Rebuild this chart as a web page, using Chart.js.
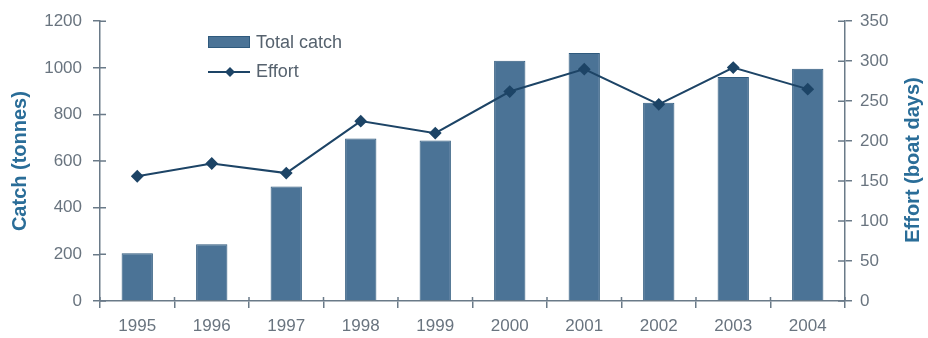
<!DOCTYPE html>
<html>
<head>
<meta charset="utf-8">
<script src="https://cdn.jsdelivr.net/npm/chart.js@4"></script>
<style>
  html, body { margin: 0; padding: 0; background: #fff; }
  #wrap { width: 928px; height: 338px; position: relative; }
</style>
</head>
<body>
<div id="wrap"><canvas id="chart" width="928" height="338"></canvas></div>
<script>
const years = ["1995", "1996", "1997", "1998", "1999", "2000", "2001", "2002", "2003", "2004"];
const totalCatch = [205, 243, 491, 697, 688, 1030, 1064, 850, 961, 996];
const effort = [156, 172, 160, 225, 210, 262, 290, 246, 292, 265];
const catchTicks = [0, 200, 400, 600, 800, 1000, 1200];
const effortTicks = [0, 50, 100, 150, 200, 250, 300, 350];

const barColor = "#4b7396";
const lineColor = "#1d4466";
const axisColor = "#6a7a88";
const labelColor = "#69747f";
const titleColor = "#2a6d98";
const font = "'Liberation Sans', Arial, sans-serif";

// legend inside the plot, short inner ticks and the upward right title
const extras = {
    id: "extras",
    afterDraw(chart) {
        const c = chart.ctx;
        const area = chart.chartArea;
        const y = chart.scales.y, y2 = chart.scales.y2, x = chart.scales.x;
        c.save();

        // inner halves of the crossing tick marks
        c.strokeStyle = axisColor;
        c.lineWidth = 1.5;
        c.beginPath();
        catchTicks.forEach(v => {
            const py = y.getPixelForValue(v);
            c.moveTo(area.left, py); c.lineTo(area.left + 6, py);
        });
        effortTicks.forEach(v => {
            const py = y2.getPixelForValue(v);
            c.moveTo(area.right, py); c.lineTo(area.right - 7, py);
        });
        for (let i = 0; i <= years.length; i++) {
            const px = x.getPixelForValue(i - 0.5);
            c.moveTo(px, area.bottom); c.lineTo(px, area.bottom - 4);
        }
        c.stroke();

        // legend
        c.fillStyle = barColor;
        c.strokeStyle = "#2f5a7d";
        c.lineWidth = 1;
        c.fillRect(208, 36, 42, 12);
        c.strokeRect(208.5, 36.5, 41, 11);
        c.strokeStyle = lineColor;
        c.lineWidth = 2;
        c.beginPath();
        c.moveTo(208, 72);
        c.lineTo(250, 72);
        c.stroke();
        c.fillStyle = lineColor;
        c.beginPath();
        c.moveTo(230, 67); c.lineTo(235, 72); c.lineTo(230, 77); c.lineTo(225, 72);
        c.closePath();
        c.fill();
        c.fillStyle = "#56626e";
        c.font = "18px " + font;
        c.textBaseline = "middle";
        c.fillText("Total catch", 256, 43);
        c.fillText("Effort", 256, 72);

        // right axis title, reading upward
        c.translate(913, 160);
        c.rotate(-Math.PI / 2);
        c.fillStyle = titleColor;
        c.font = "bold 20px " + font;
        c.textAlign = "center";
        c.textBaseline = "middle";
        c.fillText("Effort (boat days)", 0, 0);
        c.restore();
    }
};

const tickFont = { family: font, size: 17 };

const ctx = document.getElementById("chart").getContext("2d");

new Chart(ctx, {
    data: {
        labels: years,
        datasets: [
            {
                type: "line",
                label: "Effort",
                data: effort,
                yAxisID: "y2",
                borderColor: lineColor,
                backgroundColor: lineColor,
                borderWidth: 2,
                pointStyle: "rectRot",
                pointRadius: 5,
                tension: 0,
                order: 0
            },
            {
                type: "bar",
                label: "Total catch",
                data: totalCatch,
                yAxisID: "y",
                backgroundColor: barColor,
                borderColor: "#2f5a7d",
                borderWidth: 1,
                barPercentage: 0.42,
                categoryPercentage: 1,
                order: 1
            }
        ]
    },
    options: {
        responsive: false,
        animation: false,
        layout: { padding: { top: 18, left: 0, right: 0, bottom: 0 } },
        plugins: {
            legend: { display: false },
            tooltip: { enabled: false }
        },
        scales: {
            x: {
                offset: true,
                grid: {
                    offset: true,
                    drawOnChartArea: false,
                    color: axisColor,
                    tickLength: 7,
                    lineWidth: 1.5
                },
                border: { color: axisColor, width: 1.5 },
                ticks: { color: labelColor, font: tickFont, padding: 8 },
                afterFit(scale) { scale.height = 37; }
            },
            y: {
                position: "left",
                min: 0,
                max: 1200,
                afterBuildTicks(scale) { scale.ticks = catchTicks.map(v => ({ value: v })); },
                grid: { drawOnChartArea: false, color: axisColor, tickLength: 7, lineWidth: 1.5 },
                border: { color: axisColor, width: 1.5 },
                ticks: { color: labelColor, font: tickFont, padding: 11, callback: v => String(v) },
                title: {
                    display: true,
                    text: "Catch (tonnes)",
                    color: titleColor,
                    font: { family: font, size: 20, weight: "bold" },
                    padding: { top: 8, bottom: 0 }
                },
                afterFit(scale) { scale.width = 100; }
            },
            y2: {
                position: "right",
                min: 0,
                max: 350,
                afterBuildTicks(scale) { scale.ticks = effortTicks.map(v => ({ value: v })); },
                grid: { drawOnChartArea: false, color: axisColor, tickLength: 7, lineWidth: 1.5 },
                border: { color: axisColor, width: 1.5 },
                ticks: { color: labelColor, font: tickFont, padding: 8, callback: v => String(v) },
                afterFit(scale) { scale.width = 83; }
            }
        }
    },
    plugins: [extras]
});
</script>
</body>
</html>
